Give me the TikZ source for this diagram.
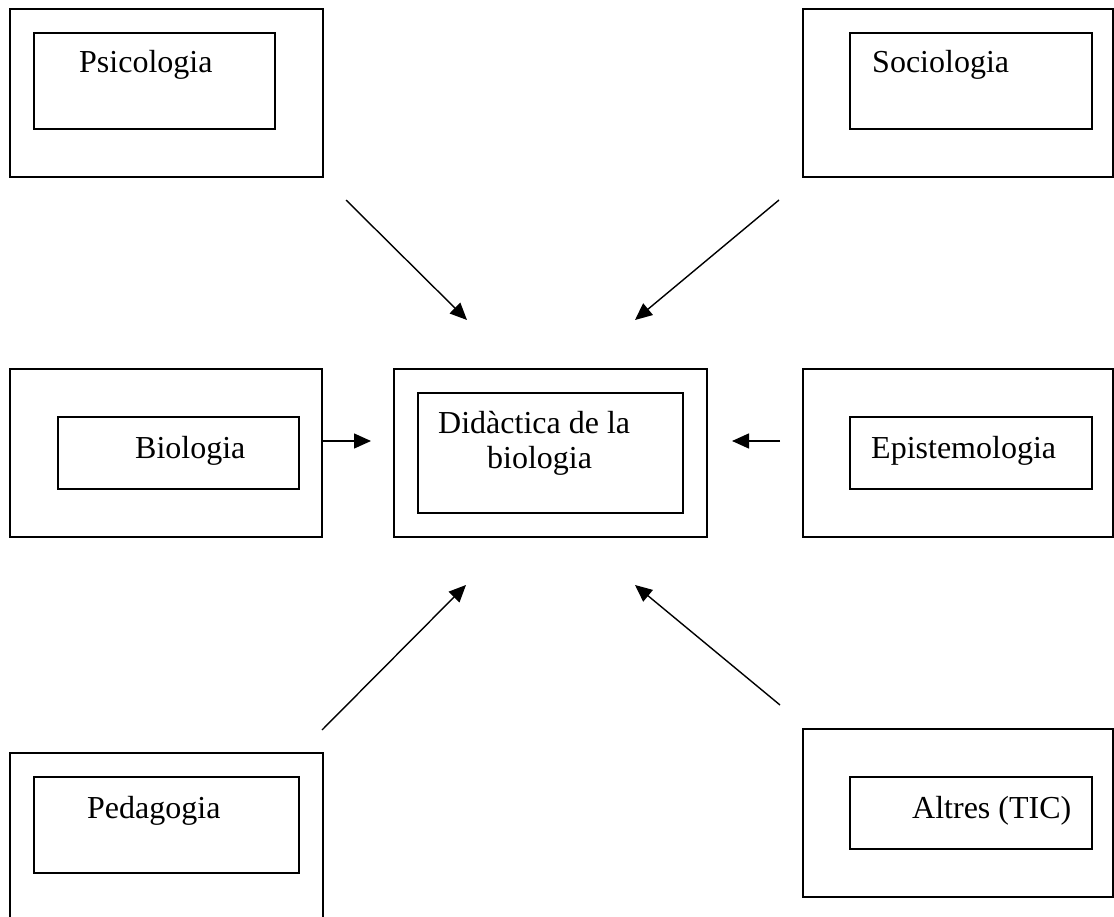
\documentclass[tikz,border=0pt]{standalone}
\usepackage{fontspec}
\setmainfont{Liberation Serif}
\usetikzlibrary{arrows.meta,fit,positioning}

\tikzset{
    frame/.style={draw, line width=2pt, inner sep=0pt},
    label text/.style={anchor=base west, inner sep=0pt,
        font=\fontsize{32}{35}\selectfont},
    link/.style={->, >={Triangle[length=17pt,width=15pt]}, line width=1.4pt},
}

\begin{document}
\begin{tikzpicture}[x=1pt,y=-1pt]

\clip (0,0) rectangle (1114,917);

% outer frames
\node[frame, fit={(10,9) (323,177)}]    (psiOut) {};
\node[frame, fit={(803,9) (1113,177)}]  (socOut) {};
\node[frame, fit={(10,369) (322,537)}]  (bioOut) {};
\node[frame, fit={(394,369) (707,537)}] (didOut) {};
\node[frame, fit={(803,369) (1113,537)}] (epiOut) {};
\node[frame, fit={(10,753) (323,940)}]  (pedOut) {};
\node[frame, fit={(803,729) (1113,897)}] (altOut) {};

% inner frames
\node[frame, fit={(34,33) (275,129)}]   (psiIn) {};
\node[frame, fit={(850,33) (1092,129)}] (socIn) {};
\node[frame, fit={(58,417) (299,489)}]  (bioIn) {};
\node[frame, fit={(418,393) (683,513)}] (didIn) {};
\node[frame, fit={(850,417) (1092,489)}] (epiIn) {};
\node[frame, fit={(34,777) (299,873)}]  (pedIn) {};
\node[frame, fit={(850,777) (1092,849)}] (altIn) {};

% texts
\node[label text] (psi) at (79,73)  {Psicologia};
\node[label text] (soc) at (872,73) {Sociologia};
\node[label text] (bio) at (135,458) {Biologia};
\node[label text] (did) at (438,433) {Didàctica de la};
\node[label text] (did2) at (487,468) {biologia};
\node[label text] (epi) at (871,458) {Epistemologia};
\node[label text] (ped) at (87,818) {Pedagogia};
\node[label text] (alt) at (912,818) {Altres (TIC)};

% arrow ends
\coordinate (psiA) at (346,200);  \coordinate (psiB) at (467,320);
\coordinate (socA) at (779,200);  \coordinate (socB) at (635,320);
\coordinate (bioA) at (322,441);  \coordinate (bioB) at (371,441);
\coordinate (epiA) at (780,441);  \coordinate (epiB) at (732,441);
\coordinate (pedA) at (322,730);  \coordinate (pedB) at (466,585);
\coordinate (altA) at (780,705);  \coordinate (altB) at (635,585);

\path[link]
    (psiA) edge (psiB)
    (socA) edge (socB)
    (bioA) edge (bioB)
    (epiA) edge (epiB)
    (pedA) edge (pedB)
    (altA) edge (altB);

\end{tikzpicture}
\end{document}
